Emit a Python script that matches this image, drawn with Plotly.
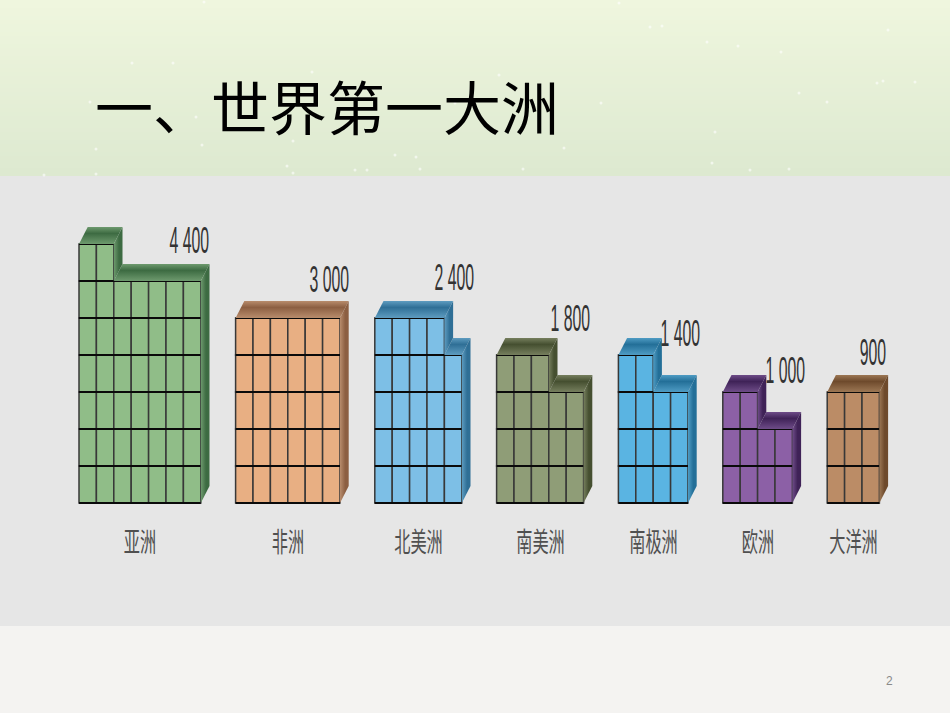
import plotly.graph_objects as go

# ---- data ----
continents = ["亚洲", "非洲", "北美洲", "南美洲", "南极洲", "欧洲", "大洋洲"]
areas = [4400, 3000, 2400, 1800, 1400, 1000, 900]      # 万平方千米
area_labels = ["4 400", "3 000", "2 400", "1 800", "1 400", "1 000", "900"]
columns = [7, 6, 5, 5, 4, 4, 3]                         # cells per row
cell_value = 100

# ---- styles ----
front = ["#90BD88", "#E8AF83", "#7DBFE6", "#8F9D77", "#5AB4E2", "#8C60A6", "#BB8C66"]
face_dark = ["#3D6B42", "#8C5F42", "#2F6F96", "#454F30", "#236F98", "#3F2257", "#6E4A2C"]
face_mid = ["#6E9A6E", "#B88C6C", "#5E9CC0", "#767F5E", "#4F9CC4", "#6E4C88", "#9C7754"]

CELL_W, ROW_H = 17.4, 37.0       # px per cell / per row
LEFT, BASE = 79.0, 503.0         # px of the origin
W, H = 950, 713
DEPTH_X, DEPTH_Y = 0.5, 0.46     # oblique offset in cells / rows
GAP = 1.5
LABEL_DX = [1, 2, 5, 0, 5, 6, 0]              # px from block's right edge
LABEL_DY = [14, -21, -23, -19, -4, -4, -22]   # px from block's tallest top
NUM_SIZE, CJK_SIZE = 36, 27

# white specks of the slide's background, px
speck_x = [204, 619, 650, 662, 707, 738, 781, 888, 132, 173, 312, 499, 883, 877, 915, 799, 827,
           601, 455, 90, 196, 715, 202, 293, 96, 564, 395, 416, 287, 712, 355, 367, 420, 523,
           750, 789, 293, 44, 96]
speck_y = [2, 3, 27, 26, 42, 46, 52, 30, 63, 63, 72, 75, 81, 83, 82, 93, 102, 103, 103, 102, 117,
           132, 145, 141, 149, 148, 155, 157, 166, 163, 170, 170, 169, 169, 170, 169, 173, 175, 174]

fig = go.Figure()
shapes = []

# backdrop
BAND = 176
top_c, bot_c = (239, 246, 222), (221, 233, 208)
STEPS = 44
for i in range(STEPS):
    t = i / (STEPS - 1)
    c = tuple(round(a + (b - a) * t) for a, b in zip(top_c, bot_c))
    shapes.append(dict(type="rect", xref="paper", yref="paper", layer="below",
                       x0=0, x1=1, y0=1 - (i + 1) * BAND / STEPS / H, y1=1 - i * BAND / STEPS / H,
                       fillcolor=f"rgb{c}", line_width=0))
shapes.append(dict(type="rect", xref="paper", yref="paper", layer="below", x0=0, x1=1,
                   y0=1 - 626 / H, y1=1 - BAND / H, fillcolor="#E6E6E6", line_width=0))
shapes.append(dict(type="rect", xref="paper", yref="paper", layer="below", x0=0, x1=1,
                   y0=0, y1=1 - 626 / H, fillcolor="#F4F3F1", line_width=0))


def face(xs, ys, kind, dark, mid):
    if kind == "vertical":
        scale = [[0, mid], [0.62, dark], [1, mid]]
    else:
        scale = [[0, mid], [0.6, dark], [1, dark]]
    fig.add_trace(go.Scatter(x=xs, y=ys, mode="lines", fill="toself", line=dict(width=0, color=dark),
                             fillgradient=dict(type=kind, colorscale=scale),
                             hoverinfo="skip", showlegend=False))


annotations = []
start = 0.0
for k, name in enumerate(continents):
    cols = columns[k]
    cells = areas[k] // cell_value
    rows, extra = divmod(cells, cols)
    levels = rows + (1 if extra else 0)
    # front grid
    xs, ys, bases = [], [], []
    for r in range(levels):
        for c in range(cols if r < rows else extra):
            xs.append(start + c + 0.5)
            ys.append(1)
            bases.append(r)
    fig.add_trace(go.Bar(x=xs, y=ys, base=bases, width=1, marker=dict(color=front[k],
                         line=dict(color="#383838", width=1.5)), hoverinfo="skip", showlegend=False))
    # heavier horizontal rules
    hx, hy = [], []
    for r in range(levels + 1):
        n = cols if r <= rows else extra
        hx += [start, start + n, None]
        hy += [r, r, None]
    fig.add_trace(go.Scatter(x=hx, y=hy, mode="lines", line=dict(color="#0A0A0A", width=1.8),
                             hoverinfo="skip", showlegend=False))
    # oblique faces: lower step first
    right = start + cols
    tall_w = extra if extra else cols
    tall_h = levels
    if extra:
        face([start + extra, start + extra + DEPTH_X, right + DEPTH_X, right],
             [rows, rows + DEPTH_Y, rows + DEPTH_Y, rows], "vertical", face_dark[k], face_mid[k])
        face([start + extra, start + extra + DEPTH_X, start + extra + DEPTH_X, start + extra],
             [rows + 1, rows + 1 + DEPTH_Y, rows + DEPTH_Y, rows], "horizontal", face_dark[k], face_mid[k])
    face([start, start + DEPTH_X, start + tall_w + DEPTH_X, start + tall_w],
         [tall_h, tall_h + DEPTH_Y, tall_h + DEPTH_Y, tall_h], "vertical", face_dark[k], face_mid[k])
    face([right, right + DEPTH_X, right + DEPTH_X, right],
         [0, DEPTH_Y, rows + DEPTH_Y, rows], "horizontal", face_dark[k], face_mid[k])
    # labels
    annotations.append(dict(x=right + DEPTH_X, y=tall_h + DEPTH_Y, xref="x", yref="y", text=area_labels[k],
                            showarrow=False, xanchor="right", yanchor="middle",
                            xshift=LABEL_DX[k], yshift=-LABEL_DY[k],
                            font=dict(family="Liberation Sans", size=NUM_SIZE, color="#333333")))
    annotations.append(dict(x=start + cols / 2, y=(BASE - 540) / ROW_H, xref="x", yref="y", text=name,
                            showarrow=False, xanchor="center", yanchor="middle",
                            font=dict(family="Noto Sans CJK SC", size=CJK_SIZE, color="#505050")))
    start = right + DEPTH_X + GAP

# specks on a pixel axis pair
fig.add_trace(go.Scatter(x=speck_x, y=speck_y, xaxis="x2", yaxis="y2", mode="markers",
                         marker=dict(color="rgba(255,255,255,0.6)", size=3, line_width=0),
                         hoverinfo="skip", showlegend=False))

annotations.append(dict(x=93 / W, y=1 - 105 / H, xref="paper", yref="paper", text="一、世界第一大洲",
                        showarrow=False, xanchor="left", yanchor="middle",
                        font=dict(family="Noto Sans CJK SC", size=58, color="#000000")))
annotations.append(dict(x=889 / W, y=1 - 681 / H, xref="paper", yref="paper", text="2",
                        showarrow=False, xanchor="center", yanchor="middle",
                        font=dict(family="Liberation Sans", size=12, color="#8A8A8A")))

hidden = dict(visible=False, showgrid=False, zeroline=False, fixedrange=True)
fig.update_layout(
    width=W, height=H, margin=dict(l=0, r=0, t=0, b=0), autosize=False,
    paper_bgcolor="#F4F3F1", plot_bgcolor="rgba(0,0,0,0)", barmode="overlay",
    shapes=shapes, annotations=annotations, showlegend=False,
    xaxis=dict(range=[-LEFT / CELL_W, (W - LEFT) / CELL_W], **hidden),
    yaxis=dict(range=[(BASE - H) / ROW_H, BASE / ROW_H], **hidden),
    xaxis2=dict(range=[0, W], overlaying="x", **hidden),
    yaxis2=dict(range=[H, 0], overlaying="y", **hidden),
)

# the reference's labels are set in a condensed face: squeeze the real text horizontally
condense = """
document.body.style.margin='0';
var gd = document.getElementById('{plot_id}');
function squeeze() {
  gd.querySelectorAll('text.annotation-text').forEach(function (t) {
    var fs = parseFloat(t.style.fontSize), b = t.getBBox();
    if (fs === %d) {
      var rx = b.x + b.width;
      t.setAttribute('transform', 'translate(' + rx + ',0) scale(0.44,1) translate(' + (-rx) + ',0)');
    } else if (fs === %d) {
      var cx = b.x + b.width / 2;
      t.setAttribute('transform', 'translate(' + cx + ',0) scale(0.6,1) translate(' + (-cx) + ',0)');
    }
  });
}
squeeze();
gd.on('plotly_afterplot', squeeze);
""" % (NUM_SIZE, CJK_SIZE)
fig.write_html("out.html", post_script=condense, config=dict(displayModeBar=False))
